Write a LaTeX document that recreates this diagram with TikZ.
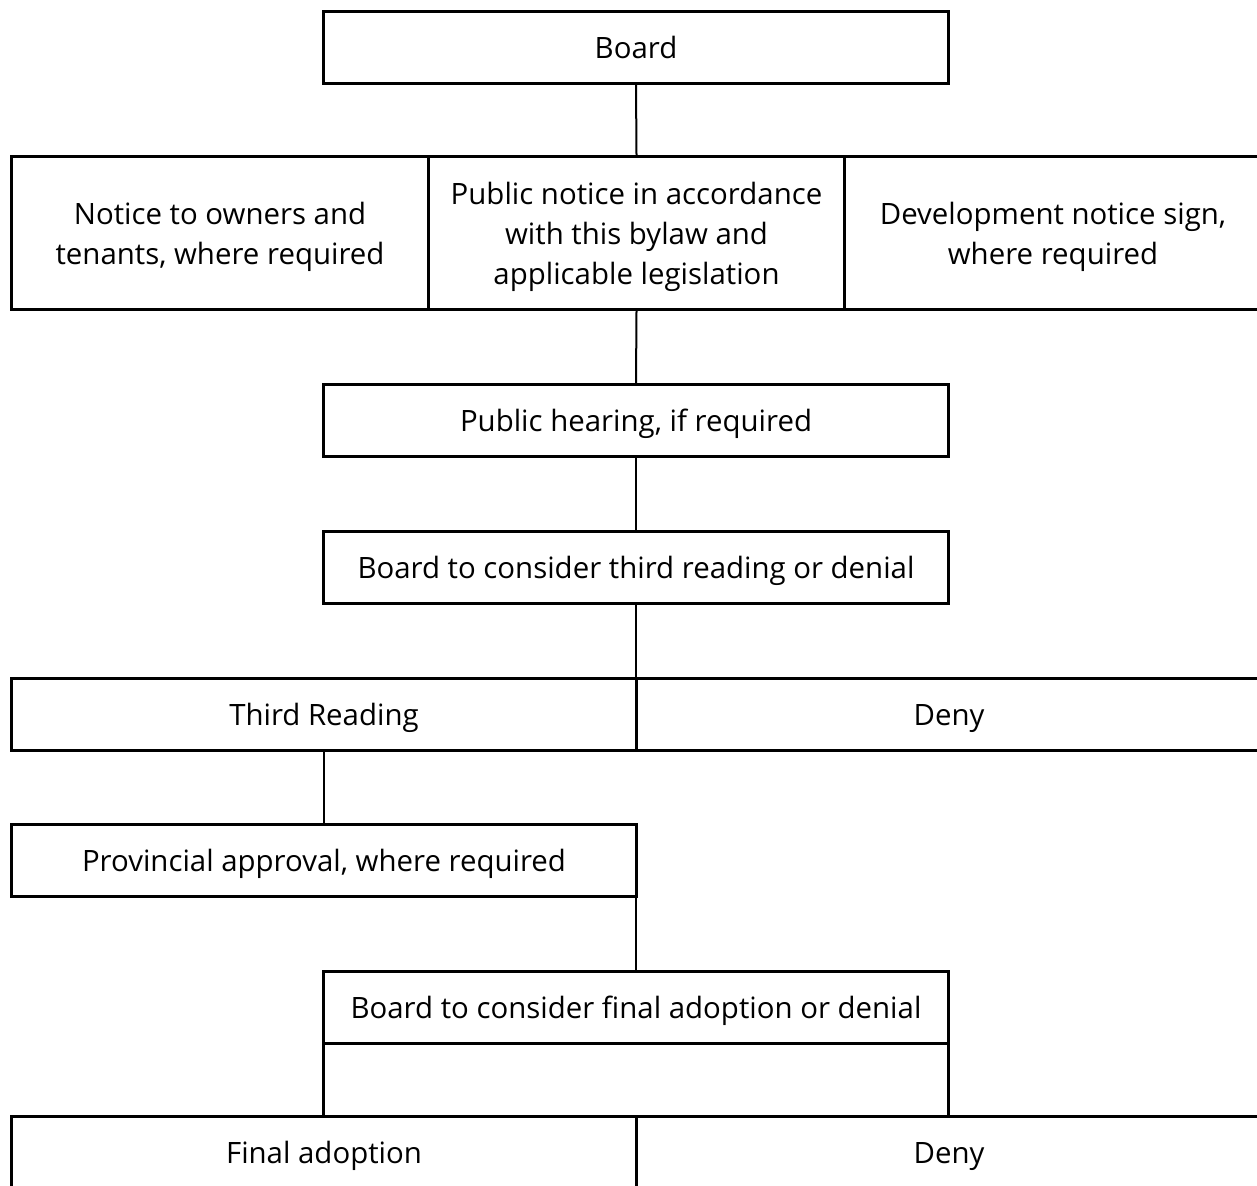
\documentclass[tikz,border=0pt]{standalone}
\usepackage{fontspec}
\setmainfont{Open Sans}
\newcommand\vstrutbox{\rule[-4pt]{0pt}{19.2pt}}
\begin{document}
\begin{tikzpicture}[x=0.5pt,y=-0.5pt,
  box/.style={draw, line width=1.5pt, inner sep=0pt, align=center,
    font=\fontsize{14.7}{20}\selectfont, anchor=north west,
    minimum height=36pt,
    execute at begin node={\vstrutbox},
    execute at end node={\vstrutbox}},
  frame/.style={draw, line width=1.5pt, inner sep=0pt, anchor=north west},
  txt/.style={inner sep=0pt, align=center, font=\fontsize{14.7}{20}\selectfont},
  link/.style={line width=1pt}]
\useasboundingbox (0,0) rectangle (1257,1186);
\clip (0,0) rectangle (1257,1186);
\node[box, minimum width=312.5pt] (board) at (322,10) {Board};
\node[frame, minimum width=208.5pt, minimum height=76.5pt] (left) at (10,155) {};
\node[frame, minimum width=208pt, minimum height=76.5pt] (mid) at (427,155) {};
\node[frame, minimum width=208.5pt, minimum height=76.5pt] (right) at (843,155) {};
\node[txt] (lefttxt) at ([yshift=-2pt]left.center) {Notice to owners and\\tenants, where required};
\node[txt] (midtxt) at ([yshift=-2pt]mid.center) {Public notice in accordance\\with this bylaw and\\applicable legislation};
\node[txt] (righttxt) at ([yshift=-2pt]right.center) {Development notice sign,\\where required};
\node[box, minimum width=312.5pt] (ph) at (322,383) {Public hearing, if required};
\node[box, minimum width=312.5pt] (tr3) at (322,530) {Board to consider third reading or denial};
\node[box, minimum width=312.5pt] (tread) at (10,677) {Third Reading};
\node[box, minimum width=312.5pt] (deny1) at (635,677) {Deny};
\node[box, minimum width=312.5pt] (prov) at (10,823) {Provincial approval, where required};
\node[box, minimum width=312.5pt] (fin) at (322,970) {Board to consider final adoption or denial};
\node[frame, minimum width=312.5pt, minimum height=36.5pt] (finlow) at (322,1042) {};
\node[box, minimum width=312.5pt] (fadopt) at (10,1115) {Final adoption};
\node[box, minimum width=312.5pt] (deny2) at (635,1115) {Deny};
\draw[link] (board.south) -- (mid.north);
\draw[link] (mid.south) -- (ph.north);
\draw[link] (ph.south) -- (tr3.north);
\draw[link] (tr3.south) -- (tr3.south |- tread.north);
\draw[link] (tread.south) -- (prov.north);
\draw[link] (fin.north |- prov.south) -- (fin.north);
\end{tikzpicture}
\end{document}
